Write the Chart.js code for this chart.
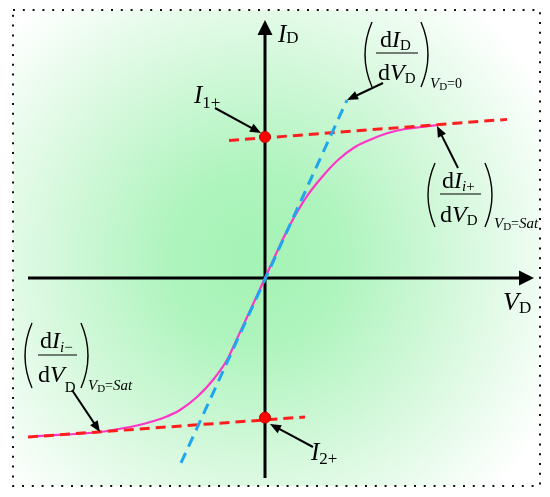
<!DOCTYPE html>
<html lang="en">
<head>
    <meta charset="UTF-8">
    <title>I-V characteristic</title>
    <script src="https://cdn.jsdelivr.net/npm/chart.js"></script>
    <style>
        body { margin: 0; background: #fff; }
        canvas { display: block; }
    </style>
</head>
<body>
    <canvas id="myChart" width="550" height="497"></canvas>
    <script>
        // values (V_D, I_D in arbitrary units)
        const curveVd = [-2.27, -1.65, -1.52, -1.35, -1.18, -1.02, -0.85, -0.68, -0.52, -0.38, -0.28, -0.15, -0.05, 0,
                         0.23, 0.40, 0.57, 0.73, 0.90, 1.07, 1.23, 1.40, 1.57, 1.73];
        const curveId = [-1.121, -1.092, -1.078, -1.057, -1.028, -0.993, -0.936, -0.844, -0.723, -0.582, -0.43, -0.232, -0.078, 0,
                         0.35, 0.56, 0.716, 0.837, 0.929, 0.986, 1.028, 1.057, 1.071, 1.085];
        const upperTanVd = [-0.36, 2.42];
        const upperTanId = [0.975, 1.125];
        const lowerTanVd = [-2.37, 0.40];
        const lowerTanId = [-1.128, -0.986];
        const slopeVd = [-0.84, 0.82];
        const slopeId = [-1.312, 1.262];
        const markVd = [0, 0];
        const markId = [1.0, -0.99];

        const zip = (xs, ys) => xs.map((x, i) => ({ x: x, y: ys[i] }));
        const serif = '"Liberation Serif", "Times New Roman", serif';

        function run(ctx, parts, x, y) {
            parts.forEach(p => {
                ctx.font = (p[2] ? 'italic ' : '') + p[1] + 'px ' + serif;
                ctx.fillText(p[0], x, y + p[3]);
                x += ctx.measureText(p[0]).width;
            });
        }

        function arrow(ctx, x1, y1, x2, y2) {
            const a = Math.atan2(y2 - y1, x2 - x1);
            const len = 11, w = 4.5;
            ctx.lineWidth = 2;
            ctx.beginPath();
            ctx.moveTo(x1, y1);
            ctx.lineTo(x2 - Math.cos(a) * len * 0.8, y2 - Math.sin(a) * len * 0.8);
            ctx.stroke();
            ctx.beginPath();
            ctx.moveTo(x2, y2);
            ctx.lineTo(x2 - Math.cos(a) * len - Math.sin(a) * w, y2 - Math.sin(a) * len + Math.cos(a) * w);
            ctx.lineTo(x2 - Math.cos(a) * len + Math.sin(a) * w, y2 - Math.sin(a) * len - Math.cos(a) * w);
            ctx.closePath();
            ctx.fill();
        }

        function paren(ctx, xOuter, xInner, top, bottom) {
            ctx.lineWidth = 1.4;
            ctx.beginPath();
            ctx.moveTo(xInner, top);
            ctx.quadraticCurveTo(2 * xOuter - xInner, (top + bottom) / 2, xInner, bottom);
            ctx.stroke();
        }

        function bar(ctx, x1, x2, y) {
            ctx.lineWidth = 1.2;
            ctx.beginPath();
            ctx.moveTo(x1, y);
            ctx.lineTo(x2, y);
            ctx.stroke();
        }

        const backdrop = {
            id: 'backdrop',
            beforeDraw(chart) {
                const ctx = chart.ctx;
                ctx.save();
                ctx.fillStyle = '#fff';
                ctx.fillRect(0, 0, chart.width, chart.height);
                const g = ctx.createRadialGradient(255, 258, 0, 255, 258, 335);
                g.addColorStop(0, '#a4f3b5');
                g.addColorStop(0.25, '#aef4bd');
                g.addColorStop(0.65, '#daf9e0');
                g.addColorStop(1, '#ffffff');
                ctx.fillStyle = g;
                ctx.fillRect(13, 10, 527, 476);
                ctx.strokeStyle = '#111';
                ctx.lineWidth = 2;
                ctx.setLineDash([2, 7.8]);
                ctx.strokeRect(13, 10, 527, 476);
                ctx.restore();
            },
            beforeDatasetsDraw(chart) {
                const ctx = chart.ctx;
                const x0 = chart.scales.x.getPixelForValue(0);
                const y0 = chart.scales.y.getPixelForValue(0);
                ctx.save();
                ctx.strokeStyle = '#000';
                ctx.fillStyle = '#000';
                ctx.lineWidth = 3;
                ctx.beginPath();
                ctx.moveTo(x0, 478);
                ctx.lineTo(x0, 32);
                ctx.moveTo(28, y0);
                ctx.lineTo(522, y0);
                ctx.stroke();
                ctx.beginPath();
                ctx.moveTo(x0, 20);
                ctx.lineTo(x0 - 7.5, 35);
                ctx.lineTo(x0 + 7.5, 35);
                ctx.closePath();
                ctx.moveTo(534, y0);
                ctx.lineTo(519, y0 - 7.5);
                ctx.lineTo(519, y0 + 7.5);
                ctx.closePath();
                ctx.fill();
                ctx.restore();
            },
            afterDraw(chart) {
                const ctx = chart.ctx;
                ctx.save();
                ctx.fillStyle = '#000';
                ctx.strokeStyle = '#000';
                ctx.textBaseline = 'alphabetic';

                // axis names and marked points
                run(ctx, [['I', 25, true, 0], ['D', 17, false, 1]], 278, 42);
                run(ctx, [['V', 26, true, 0], ['D', 17, false, 3]], 503, 310);
                run(ctx, [['I', 25, true, 0], ['1+', 17, false, 5]], 194, 103);
                run(ctx, [['I', 25, true, 0], ['2+', 17, false, 4]], 311, 460);
                arrow(ctx, 215, 108, 261, 133);
                arrow(ctx, 313, 447, 270, 424);

                // (dI_D/dV_D) at V_D = 0
                paren(ctx, 365, 372, 22, 87);
                paren(ctx, 428, 421, 22, 87);
                run(ctx, [['d', 24, false, 0], ['I', 24, true, 0], ['D', 15, false, 3]], 380, 47);
                bar(ctx, 376, 418, 53);
                run(ctx, [['d', 24, false, 0], ['V', 24, true, 0], ['D', 15, false, 3]], 378, 80);
                run(ctx, [['V', 15, true, 0], ['D', 11, false, 2], ['=0', 14, false, 0]], 430, 88);
                arrow(ctx, 383, 83, 347, 100);

                // (dI_i+/dV_D) at V_D = Sat
                paren(ctx, 428, 435, 163, 227);
                paren(ctx, 492, 485, 163, 227);
                run(ctx, [['d', 24, false, 0], ['I', 24, true, 0], ['i', 15, true, 3], ['+', 15, false, 3]], 442, 188);
                bar(ctx, 440, 481, 194);
                run(ctx, [['d', 24, false, 0], ['V', 24, true, 0], ['D', 15, false, 3]], 440, 222);
                run(ctx, [['V', 15, true, 0], ['D', 11, false, 2], ['=', 14, false, 0], ['Sat', 15, true, 0]], 494, 228);
                arrow(ctx, 458, 168, 437, 126);

                // (dI_i-/dV_D) at V_D = Sat
                paren(ctx, 25, 32, 323, 388);
                paren(ctx, 88, 81, 323, 388);
                run(ctx, [['d', 24, false, 0], ['I', 24, true, 0], ['i', 15, true, 4], ['\u2212', 15, false, 4]], 40, 348);
                bar(ctx, 38, 77, 355);
                run(ctx, [['d', 24, false, 0], ['V', 24, true, 0], ['D', 15, false, 10]], 38, 382);
                run(ctx, [['V', 15, true, 0], ['D', 11, false, 2], ['=', 14, false, 0], ['Sat', 15, true, 0]], 88, 390);
                arrow(ctx, 72, 390, 100, 432);

                ctx.restore();
            }
        };

        function createChart() {
            const ctx = document.getElementById('myChart').getContext('2d');
            new Chart(ctx, {
                type: 'scatter',
                data: {
                    datasets: [
                        {
                            label: 'I_D(V_D)',
                            data: zip(curveVd, curveId),
                            showLine: true,
                            borderColor: '#ff35c8',
                            borderWidth: 2.2,
                            pointRadius: 0,
                            cubicInterpolationMode: 'monotone',
                            order: 4
                        },
                        {
                            label: 'saturation +',
                            data: zip(upperTanVd, upperTanId),
                            showLine: true,
                            borderColor: '#ff1e1e',
                            borderWidth: 3,
                            borderDash: [10, 6],
                            pointRadius: 0,
                            order: 3
                        },
                        {
                            label: 'saturation -',
                            data: zip(lowerTanVd, lowerTanId),
                            showLine: true,
                            borderColor: '#ff1e1e',
                            borderWidth: 3,
                            borderDash: [10, 6],
                            pointRadius: 0,
                            order: 3
                        },
                        {
                            label: 'slope at 0',
                            data: zip(slopeVd, slopeId),
                            showLine: true,
                            borderColor: '#1fa6ee',
                            borderWidth: 3,
                            borderDash: [11, 7],
                            pointRadius: 0,
                            order: 2
                        },
                        {
                            label: 'I1+ / I2+',
                            data: zip(markVd, markId),
                            showLine: false,
                            backgroundColor: '#ff0000',
                            borderColor: '#c80000',
                            borderWidth: 1,
                            pointRadius: 5.5,
                            order: 1
                        }
                    ]
                },
                options: {
                    responsive: false,
                    animation: false,
                    events: [],
                    layout: { padding: 0, autoPadding: false },
                    plugins: {
                        legend: { display: false },
                        tooltip: { enabled: false }
                    },
                    scales: {
                        x: { type: 'linear', display: false, min: -2.65, max: 2.85 },
                        y: { type: 'linear', display: false, min: -1.5532, max: 1.9716 }
                    }
                },
                plugins: [backdrop]
            });
        }

        window.onload = createChart;
    </script>
</body>
</html>
